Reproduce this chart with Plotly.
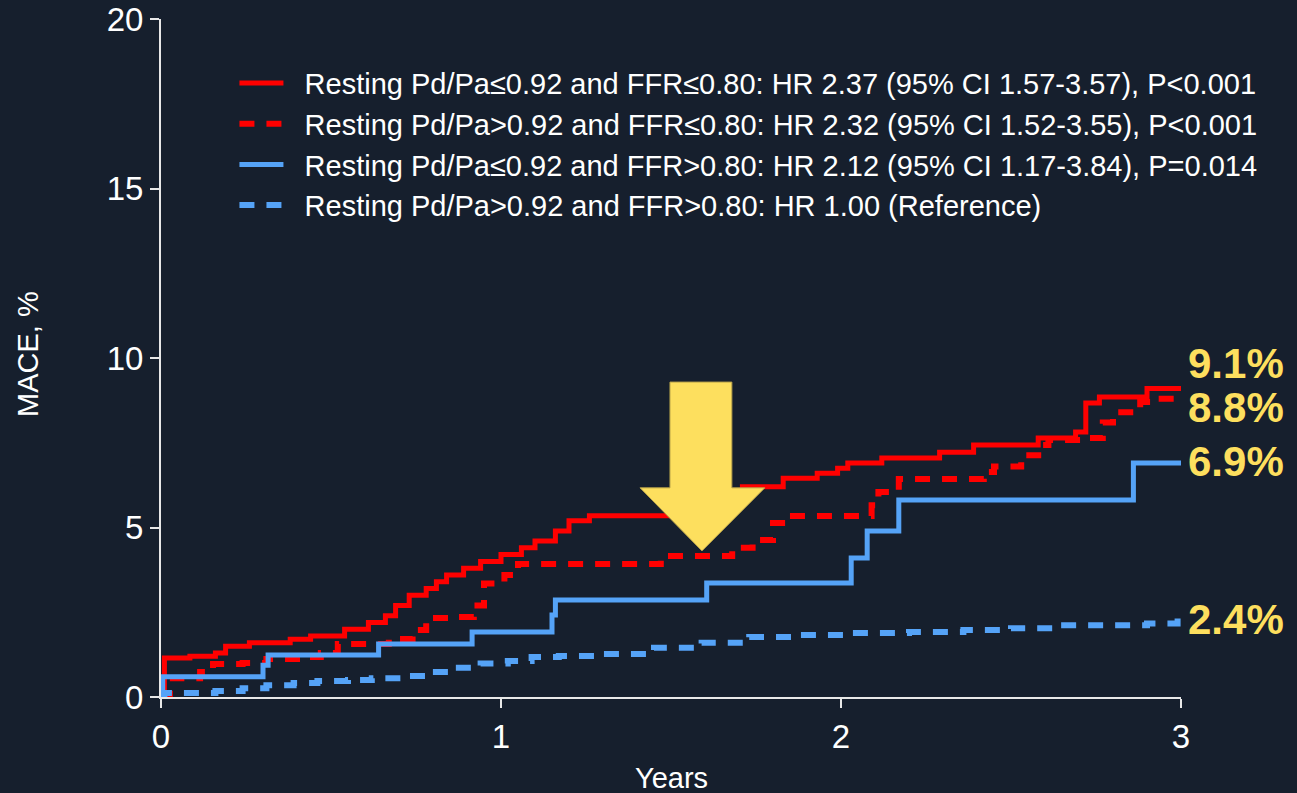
import plotly.graph_objects as go

# Kaplan-Meier cumulative MACE (%) by resting Pd/Pa and FFR group
years_low_low = [0, 0.01, 0.085, 0.16, 0.19, 0.26, 0.38, 0.44, 0.54, 0.61, 0.66, 0.69, 0.73,
                 0.78, 0.81, 0.84, 0.89, 0.94, 1.0, 1.06, 1.10, 1.16, 1.20, 1.26, 1.55, 1.64,
                 1.71, 1.83, 1.93, 1.99, 2.02, 2.12, 2.29, 2.39, 2.58, 2.69, 2.72, 2.76, 2.90, 3.0]
mace_low_low = [0, 1.15, 1.2, 1.3, 1.5, 1.6, 1.7, 1.8, 2.0, 2.2, 2.4, 2.7, 3.0,
                3.2, 3.4, 3.6, 3.8, 4.0, 4.2, 4.4, 4.6, 4.9, 5.2, 5.35, 5.6, 5.9,
                6.2, 6.45, 6.6, 6.75, 6.9, 7.05, 7.22, 7.43, 7.64, 7.82, 8.67, 8.85, 9.1, 9.1]

years_high_low = [0, 0.026, 0.115, 0.153, 0.24, 0.31, 0.40, 0.47, 0.52, 0.67, 0.74, 0.78, 0.87,
                  0.92, 0.95, 1.01, 1.05, 1.47, 1.68, 1.74, 1.80, 1.84, 2.09, 2.11, 2.17, 2.42,
                  2.45, 2.53, 2.58, 2.61, 2.73, 2.77, 2.80, 2.88, 2.92, 2.98]
mace_high_low = [0, 0.55, 0.74, 0.97, 1.0, 1.12, 1.18, 1.3, 1.56, 1.71, 1.98, 2.33, 2.36,
                 2.7, 3.35, 3.6, 3.92, 4.16, 4.4, 4.63, 5.13, 5.34, 5.66, 6.05, 6.43, 6.64,
                 6.8, 7.13, 7.43, 7.58, 7.64, 8.1, 8.4, 8.7, 8.8, 8.8]

years_low_high = [0, 0.005, 0.30, 0.315, 0.64, 0.915, 1.15, 1.16, 1.605, 2.03, 2.077, 2.17, 2.86, 3.0]
mace_low_high = [0, 0.6, 0.94, 1.24, 1.56, 1.92, 2.42, 2.86, 3.36, 4.1, 4.9, 5.81, 6.9, 6.9]

years_high_high = [0, 0.01, 0.16, 0.24, 0.31, 0.39, 0.46, 0.55, 0.62, 0.71, 0.78, 0.86, 0.94,
                   1.02, 1.09, 1.17, 1.29, 1.45, 1.59, 1.73, 1.88, 2.03, 2.2, 2.36, 2.5, 2.64,
                   2.9, 2.99, 3.0]
mace_high_high = [0, 0.12, 0.18, 0.26, 0.35, 0.41, 0.47, 0.5, 0.55, 0.62, 0.74, 0.86, 0.99,
                  1.06, 1.18, 1.21, 1.27, 1.45, 1.6, 1.77, 1.83, 1.89, 1.92, 1.98, 2.03, 2.12,
                  2.17, 2.4, 2.4]

legend_labels = [
    "Resting Pd/Pa≤0.92 and FFR≤0.80: HR 2.37 (95% CI 1.57-3.57), P<0.001",
    "Resting Pd/Pa>0.92 and FFR≤0.80: HR 2.32 (95% CI 1.52-3.55), P<0.001",
    "Resting Pd/Pa≤0.92 and FFR>0.80: HR 2.12 (95% CI 1.17-3.84), P=0.014",
    "Resting Pd/Pa>0.92 and FFR>0.80: HR 1.00 (Reference)",
]
end_labels = ["9.1%", "8.8%", "6.9%", "2.4%"]
end_values = [9.1, 8.8, 6.9, 2.4]
end_label_shift = [25, -9, 2, -4]

x_ticks = [0, 1, 2, 3]
y_ticks = [0, 5, 10, 15, 20]

BG = "#161F2D"
RED = "#FF0000"
BLUE = "#55A3F7"
YELLOW = "#FDDF5E"
FONT = "Liberation Sans, Arial, sans-serif"
PAD = "\u00a0\u00a0"  # extra room between legend sample and label

series = [
    (years_low_low, mace_low_low, RED, "solid", 5),
    (years_high_low, mace_high_low, RED, "15px,12px", 6),
    (years_low_high, mace_low_high, BLUE, "solid", 5),
    (years_high_high, mace_high_high, BLUE, "15px,12px", 6),
]

fig = go.Figure()
for i, (xs, ys, color, dash, width) in enumerate(series):
    fig.add_trace(go.Scatter(
        x=xs, y=ys, mode="lines", name=PAD + legend_labels[i],
        legendgroup=f"g{i}",
        line=dict(color=color, width=width, dash=dash, shape="hv"),
        hoverinfo="skip",
    ))

# Down arrow highlighting the curve separation
ax_l, ax_r = 1.497, 1.679
hd_l, hd_r, apex_x = 1.409, 1.776, 1.591
top_y, neck_y, apex_y = 9.29, 6.17, 4.31
arrow_path = (f"M {ax_l},{top_y} L {ax_r},{top_y} L {ax_r},{neck_y} L {hd_r},{neck_y} "
              f"L {apex_x},{apex_y} L {hd_l},{neck_y} L {ax_l},{neck_y} Z")
fig.add_shape(type="path", path=arrow_path, xref="x", yref="y",
              fillcolor=YELLOW, line=dict(color="#B8A24A", width=1), layer="above")

# End-of-follow-up percentages
for txt, val, shift in zip(end_labels, end_values, end_label_shift):
    fig.add_annotation(x=3, y=val, xref="x", yref="y", text=f"<b>{txt}</b>",
                       showarrow=False, xanchor="left", yanchor="middle",
                       xshift=5, yshift=shift,
                       font=dict(family=FONT, size=42, color=YELLOW))

# Axis titles
fig.add_annotation(x=-0.1304, y=0.506, xref="paper", yref="paper", text="MACE, %",
                   textangle=-90, showarrow=False, xanchor="center", yanchor="middle",
                   font=dict(family=FONT, size=29, color="white"))
fig.add_annotation(x=0.5, y=-0.0929, xref="paper", yref="paper", text="Years",
                   showarrow=False, xanchor="center", yanchor="top",
                   font=dict(family=FONT, size=29, color="white"))

axis_common = dict(
    showline=True, linecolor="#E8E8E8", linewidth=2,
    ticks="outside", ticklen=9, tickwidth=2, tickcolor="#E8E8E8",
    showgrid=False, zeroline=False, automargin=False,
    tickfont=dict(family=FONT, size=33, color="white"),
)

fig.update_layout(
    width=1297, height=793,
    paper_bgcolor=BG, plot_bgcolor=BG,
    margin=dict(l=161, r=116, t=19, b=96, autoexpand=False),
    xaxis=dict(range=[0, 3], tickvals=x_ticks, **axis_common),
    yaxis=dict(range=[0, 20], tickvals=y_ticks, **axis_common),
    legend=dict(
        x=0.072, y=0.943, xanchor="left", yanchor="top",
        bgcolor="rgba(0,0,0,0)", borderwidth=0,
        font=dict(family=FONT, size=29, color="white"),
        itemwidth=44, tracegroupgap=0,
    ),
    showlegend=True,
)

fig.write_html("out.html")
